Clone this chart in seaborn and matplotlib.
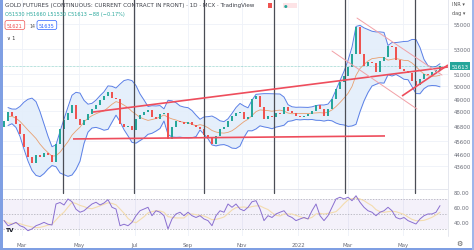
import numpy as np
import pandas as pd
import matplotlib
matplotlib.use("Agg")
import matplotlib.pyplot as plt
import matplotlib.transforms as mtransforms
import seaborn as sns

# ---------------- data ----------------
closes = [47210, 47930, 47610, 46970, 46170, 45120, 44320, 43840, 44480, 44320,
          44640, 44480, 43920, 45360, 46570, 47290, 47850, 48500, 47370, 46890,
          47290, 47770, 48170, 48500, 48900, 49220, 49540, 49060, 48980, 46970,
          46730, 46810, 46490, 47370, 47690, 47930, 48090, 47530, 47370, 47770,
          47850, 45770, 46730, 47210, 47130, 46970, 47130, 46890, 46730, 46570,
          46090, 45850, 45360, 46010, 46570, 46730, 47210, 47610, 47850, 47930,
          47370, 47530, 48980, 49220, 48340, 47370, 47610, 47530, 47850, 47770,
          48340, 48010, 47850, 47610, 47530, 47610, 47770, 48010, 48500, 48170,
          47610, 48170, 48980, 49780, 50340, 50820, 51550, 52590, 54760, 52590,
          51630, 51950, 51870, 51150, 52030, 52350, 53230, 53150, 52110, 51390,
          51230, 51070, 50420, 50100, 50580, 50990, 50910, 51150, 51310, 51613]
first_open = 46700

rsi_values = [42, 35, 37, 39.5, 35, 33, 28.4, 30.7, 35, 37,
              39.5, 37, 36, 64, 66, 62.7, 70.7, 67, 57, 53,
              55, 59.6, 64, 66.3, 62.7, 65.3, 69.8, 59.6, 57.3, 35,
              37, 35, 39.5, 48.4, 55, 57.3, 59.6, 48.4, 55, 53,
              48.4, 30.7, 44, 50.7, 53, 48.4, 53, 48.4, 46, 48.4,
              44, 41.8, 35, 48.4, 55, 53, 64, 59.6, 64, 57.3,
              55, 59.6, 67, 68.4, 57.3, 41.8, 48.4, 46, 50.7, 53,
              55, 48.4, 46, 41.8, 44, 46, 44, 55, 64, 48.4,
              41.8, 48.4, 59.6, 70.7, 73, 70.7, 73, 68.4, 75, 66.3,
              59.6, 55, 53, 48.4, 53, 55, 59.6, 55, 46, 44,
              46, 41.8, 39.5, 37.3, 44, 48.4, 50.7, 50.7, 53, 61.8]

month_labels = ["Mar", "May", "Jul", "Sep", "Nov", "2022", "Mar", "May"]
month_pos = [4.5, 18.75, 32.75, 46, 59.5, 73.5, 86, 99.75]
price_ticks = [55000, 53000, 51000, 50000, 49000, 48000, 46800, 45600, 44600, 43600]
rsi_ticks = [80, 60, 40]
last_price = 51613
separator_pos = [14.75, 32.5, 50, 67.5, 85.25, 102.75]

# drawn trend lines: (x0, x1), (p0, p1)
red_lines = [((22.25, 111), (47930, 51550)),
             ((17.25, 95.25), (45770, 46010)),
             ((99.5, 111), (49220, 51710))]
pink_lines = [((88.25, 109.5), (55480, 50900)),
              ((82, 103.25), (52830, 48175))]

title = "GOLD FUTURES (CONTINUOUS: CURRENT CONTRACT IN FRONT) · 1D · MCX · TradingView"
ohlc_text = "O51530 H51660 L51530 C51613 \u221288 (\u22120.17%)"

# ---------------- build frames ----------------
n = len(closes)
idx = np.arange(n)
opens = [first_open] + closes[:-1]
df = pd.DataFrame({"i": idx, "open": opens, "close": closes})
df["basis"] = df["close"].rolling(8, min_periods=2).mean()
sd = df["close"].rolling(8, min_periods=2).std(ddof=0)
df["upper"] = df["basis"] + 2 * sd
df["lower"] = df["basis"] - 2 * sd
rsi_df = pd.DataFrame({"i": idx, "rsi": rsi_values})
rsi_df["ma"] = rsi_df["rsi"].rolling(5, min_periods=1).mean()

sns.set_theme(style="white")
plt.rcParams["font.family"] = ["DejaVu Sans"]

W, H = 474, 251
fig = plt.figure(figsize=(W / 100, H / 100), dpi=100)
fig.patch.set_facecolor("white")

def axrect(x0, y0, x1, y1):
    return [x0 / W, 1 - y1 / H, (x1 - x0) / W, (y1 - y0) / H]

ax = fig.add_axes(axrect(3, 0, 448, 190))
axr = fig.add_axes(axrect(3, 190, 448, 237), sharex=ax)

XL = (-0.25, 111.0)
ax.set_xlim(*XL)
ax.set_ylim(41750, 57010)
axr.set_ylim(21.3, 84)

grid_c = "#eef1f8"
for a in (ax, axr):
    for s in a.spines.values():
        s.set_visible(False)
    a.set_facecolor("white")
    for p in month_pos:
        a.axvline(p, color=grid_c, lw=0.6, zorder=0)
for t in price_ticks:
    ax.axhline(t, color=grid_c, lw=0.6, zorder=0)

# Bollinger bands
ax.fill_between(df["i"], df["lower"], df["upper"], color="#e3eefb", alpha=0.9, lw=0, zorder=1)
sns.lineplot(data=df, x="i", y="upper", ax=ax, color="#5a7fe6", lw=0.7, zorder=2)
sns.lineplot(data=df, x="i", y="lower", ax=ax, color="#5a7fe6", lw=0.7, zorder=2)
sns.lineplot(data=df, x="i", y="basis", ax=ax, color="#e8a070", lw=0.6, zorder=2)

# candles
up = df["close"] >= df["open"]
body = (df["close"] - df["open"]).abs().clip(lower=40)
bottom = df[["open", "close"]].min(axis=1)
ax.bar(df["i"], body, bottom=bottom, width=0.55,
       color=np.where(up, "#26a69a", "#ef5350"), lw=0, zorder=3)

# user-drawn lines
for p in separator_pos:
    ax.axvline(p, color="#4a4d55", lw=0.9, zorder=4)
    axr.plot([p, p], [79, 84], color="#4a4d55", lw=0.9, zorder=4)
for (xs, ps) in red_lines:
    ax.plot(xs, ps, color="#ee4d5c", lw=1.2, zorder=5, solid_capstyle="butt")
for (xs, ps) in pink_lines:
    ax.plot(xs, ps, color="#f2a0a6", lw=0.7, zorder=5)

# price axis
ax.yaxis.tick_right()
ax.set_yticks(price_ticks)
ax.set_yticklabels([str(t) for t in price_ticks])
ax.tick_params(axis="y", length=0, pad=4, labelsize=3.9, colors="#6a6d78")
ax.tick_params(axis="x", length=0, labelbottom=False)
ax.set_xlabel("")
ax.set_ylabel("")
trans = mtransforms.blended_transform_factory(ax.transAxes, ax.transData)
ax.text(1.008, last_price, str(last_price), transform=trans, ha="left", va="center",
        fontsize=3.9, color="white",
        bbox=dict(boxstyle="square,pad=0.25", fc="#26a69a", ec="none"), zorder=10)
ax.axhline(last_price, color="#26a69a", lw=0.4, ls=(0, (1, 1.5)), zorder=2)

# RSI pane
axr.axhspan(30, 70, color="#7e57c2", alpha=0.08, lw=0, zorder=0)
for lvl in (70, 50, 30):
    axr.axhline(lvl, color="#a8a9b3", lw=0.5, ls=(0, (2, 2)), zorder=1)
sns.lineplot(data=rsi_df, x="i", y="ma", ax=axr, color="#f3dcae", lw=0.8, zorder=2)
sns.lineplot(data=rsi_df, x="i", y="rsi", ax=axr, color="#8a6fd0", lw=0.7, zorder=3)
axr.yaxis.tick_right()
axr.set_yticks(rsi_ticks)
axr.set_yticklabels([f"{t:.2f}" for t in rsi_ticks])
axr.tick_params(axis="y", length=0, pad=4, labelsize=3.9, colors="#6a6d78")
axr.set_xticks(month_pos)
axr.set_xticklabels(month_labels)
axr.tick_params(axis="x", length=0, pad=4, labelsize=3.9, colors="#6a6d78")
axr.set_xlabel("")
axr.set_ylabel("")
axr.axhline(84, color="#e0e3eb", lw=0.6, zorder=0)
axr.text(0.006, 0.14, "TV", transform=axr.transAxes, fontsize=4.2, fontweight="bold",
         color="#131722", ha="left", va="center")
axr.set_xlim(*XL)

# header texts
fig.text(5 / W, 1 - 6 / H, title, fontsize=4.1, color="#3a3d46", ha="left", va="center")
fig.text(5 / W, 1 - 15 / H, ohlc_text, fontsize=3.6, color="#26a69a", ha="left", va="center")
fig.text(7 / W, 1 - 26 / H, "51621", fontsize=3.6, color="#ef5350", ha="left", va="center",
         bbox=dict(boxstyle="round,pad=0.4", fc="white", ec="#ef5350", lw=0.5))
fig.text(29 / W, 1 - 26 / H, "14", fontsize=3.4, color="#555", ha="left", va="center")
fig.text(39 / W, 1 - 26 / H, "51635", fontsize=3.6, color="#2962ff", ha="left", va="center",
         bbox=dict(boxstyle="round,pad=0.4", fc="white", ec="#2962ff", lw=0.5))
fig.text(7 / W, 1 - 38 / H, "\u2228 1", fontsize=3.6, color="#333", ha="left", va="center")
fig.text(452 / W, 1 - 5 / H, "INR \u25be", fontsize=3.6, color="#555", ha="left", va="center")
fig.text(452 / W, 1 - 14 / H, "dag \u25be", fontsize=3.6, color="#555", ha="left", va="center")
fig.text(459 / W, 1 - 244 / H, "\u2699", fontsize=5, color="#555", ha="center", va="center")
fig.patches.append(plt.Rectangle((268 / W, 1 - 9 / H), 4 / W, 5 / H, transform=fig.transFigure,
                                 fc="#ef5350", ec="none"))
fig.patches.append(plt.Rectangle((283 / W, 1 - 9 / H), 14 / W, 5 / H, transform=fig.transFigure,
                                 fc="#fde3e6", ec="none"))
fig.text(286 / W, 1 - 6.5 / H, "\u25cf", fontsize=3, color="#26a69a", ha="center", va="center")

# separator of price scale and screenshot border
fig.add_artist(plt.Line2D([448 / W, 448 / W], [1 - 237 / H, 1], color="#e0e3eb", lw=0.6))
fig.patches.append(plt.Rectangle((0, 0), 2.5 / W, 1, transform=fig.transFigure, fc="#7f9fe3", ec="none"))
fig.patches.append(plt.Rectangle((0, 0), 1, 2.5 / H, transform=fig.transFigure, fc="#7f9fe3", ec="none"))
fig.patches.append(plt.Rectangle((1 - 2 / W, 0), 2 / W, 1, transform=fig.transFigure, fc="#9fb6ea", ec="none"))

fig.savefig("out.png", dpi=100)
